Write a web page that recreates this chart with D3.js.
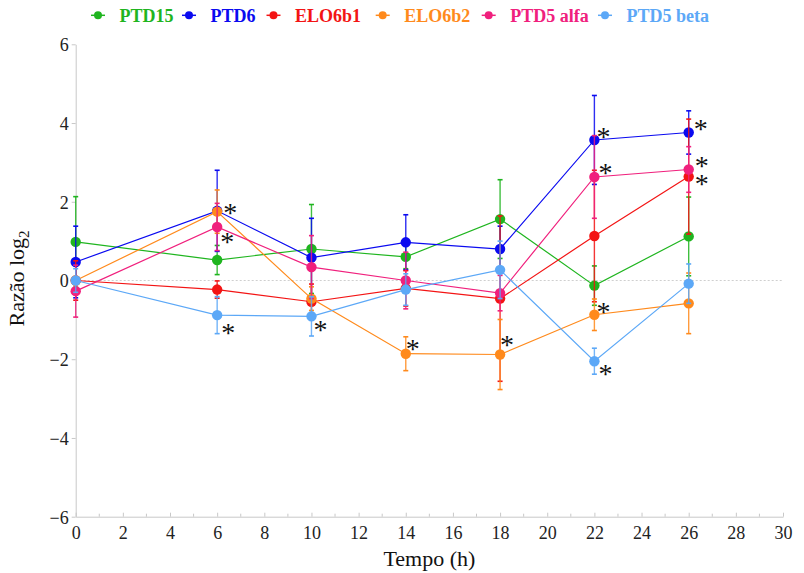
<!DOCTYPE html>
<html>
<head>
<meta charset="utf-8">
<script src="https://cdn.jsdelivr.net/npm/d3@7"></script>
<style>
  html, body { margin: 0; padding: 0; background: #fff; }
  svg { display: block; }
  svg text { font-family: 'Liberation Serif', 'Times New Roman', serif; }
</style>
</head>
<body>
<svg id="chart" width="804" height="573"></svg>
<script>
// ---------- data ----------
const times = [0, 6, 10, 14, 18, 22, 26];
const seriesNames = ["PTD15", "PTD6", "ELO6b1", "ELO6b2", "PTD5 alfa", "PTD5 beta"];
const ptd15     = [0.98, 0.52, 0.80, 0.60, 1.56, -0.13, 1.12];
const ptd15Err  = [1.15, 0.37, 1.13, 0.30, 1.00, 0.50, 1.00];
const ptd6      = [0.47, 1.77, 0.58, 0.97, 0.80, 3.57, 3.76];
const ptd6Err   = [0.91, 1.03, 1.00, 0.70, 0.58, 1.13, 0.55];
const elo6b1    = [0.00, -0.23, -0.54, -0.20, -0.46, 1.13, 2.64];
const elo6b1Err = [0.50, 0.22, 0.45, 0.45, 2.10, 1.67, 1.46];
const elo6b2    = [0.00, 1.75, -0.46, -1.86, -1.88, -0.87, -0.58];
const elo6b2Err = [0.10, 0.55, 0.30, 0.43, 0.89, 0.40, 0.77];
const ptd5a     = [-0.27, 1.36, 0.34, 0.00, -0.32, 2.63, 2.82];
const ptd5aErr  = [0.66, 0.60, 0.80, 0.72, 0.45, 1.05, 0.58];
const ptd5b     = [0.00, -0.88, -0.91, -0.23, 0.27, -2.05, -0.08];
const ptd5bErr  = [0.30, 0.47, 0.50, 0.40, 0.73, 0.33, 0.50];
const xTicks = [0, 2, 4, 6, 8, 10, 12, 14, 16, 18, 20, 22, 24, 26, 28, 30];
const yTicks = [-6, -4, -2, 0, 2, 4, 6];
// significance marks: [series index, time]
const stars = [[3, 6], [4, 6], [5, 6], [5, 10], [3, 14], [3, 18],
               [1, 22], [4, 22], [3, 22], [5, 22], [1, 26], [4, 26], [2, 26]];

// ---------- style / layout ----------
const colors = ["#1fb51f", "#0a0af0", "#f31414", "#ff8a1c", "#f0207d", "#5ca8f7"];
const starOffsets = [[13, -4], [10, 10], [11, 13], [9, 9], [7, -10], [7, -15],
                     [9, -8], [11, -9], [9, -8], [11, 8], [12, -8], [13, -8], [13, 2]];
const legendX = [91, 182, 266.5, 375.7, 481.7, 598];
const values = [ptd15, ptd6, elo6b1, elo6b2, ptd5a, ptd5b];
const errors = [ptd15Err, ptd6Err, elo6b1Err, elo6b2Err, ptd5aErr, ptd5bErr];
const serif = "'Liberation Serif', 'Times New Roman', serif";

const svg = d3.select("#chart");
const mLeft = 75.7, mRight = 783, mTop = 44.3, mBottom = 516.7;
const x = d3.scaleLinear().domain([0, 30]).range([mLeft, mRight]);
const y = d3.scaleLinear().domain([-6, 6]).range([mBottom, mTop]);

// zero reference line
svg.append("line")
  .attr("x1", x(0)).attr("x2", x(30)).attr("y1", y(0)).attr("y2", y(0))
  .attr("stroke", "#cfcfcf").attr("stroke-width", 1).attr("stroke-dasharray", "2,2");

// axes
const axisColor = "#c8c8c8";
const gx = svg.append("g").attr("transform", `translate(0,${mBottom})`)
  .call(d3.axisBottom(x).tickValues(xTicks).tickSizeInner(-4).tickSizeOuter(0).tickPadding(10));
svg.append("g").selectAll("line").data(d3.range(1, 30, 2)).join("line")
  .attr("x1", d => x(d)).attr("x2", d => x(d)).attr("y1", mBottom).attr("y2", mBottom - 3)
  .attr("stroke", axisColor);
const gy = svg.append("g").attr("transform", `translate(${mLeft},0)`)
  .call(d3.axisLeft(y).tickValues(yTicks).tickSizeInner(4).tickSizeOuter(0).tickPadding(3));
[gx, gy].forEach(g => {
  g.attr("font-family", null).style("font-family", serif);
  g.select(".domain").attr("stroke", axisColor);
  g.selectAll(".tick line").attr("stroke", axisColor);
  g.selectAll(".tick text").attr("fill", "#222").attr("font-size", 18).style("font-family", serif);
});
gy.selectAll(".tick text").attr("dy", "0.36em");

// axis titles
svg.append("text").attr("x", (mLeft + mRight) / 2).attr("y", 566)
  .attr("text-anchor", "middle").attr("font-size", 22).attr("fill", "#111")
  .text("Tempo (h)");
const yt = svg.append("text").attr("transform", `translate(24,${(mTop + mBottom) / 2 - 2}) rotate(-90)`)
  .attr("text-anchor", "middle").attr("font-size", 22).attr("fill", "#111");
yt.append("tspan").text("Razão log");
yt.append("tspan").attr("font-size", 15).attr("dy", 5).text("2");

// series
values.forEach((vals, si) => {
  const g = svg.append("g");
  const c = colors[si];
  const pts = times.map((t, i) => ({ t, v: vals[i], e: errors[si][i] }));
  pts.forEach(p => {
    g.append("line").attr("x1", x(p.t)).attr("x2", x(p.t))
      .attr("y1", y(p.v - p.e)).attr("y2", y(p.v + p.e))
      .attr("stroke", c).attr("stroke-width", 1.4).attr("opacity", 0.85);
    [p.v - p.e, p.v + p.e].forEach(v => {
      g.append("line").attr("x1", x(p.t) - 2.5).attr("x2", x(p.t) + 2.5)
        .attr("y1", y(v)).attr("y2", y(v)).attr("stroke", c).attr("stroke-width", 1.6);
    });
  });
  g.append("path").datum(pts)
    .attr("d", d3.line().x(d => x(d.t)).y(d => y(d.v)))
    .attr("fill", "none").attr("stroke", c).attr("stroke-width", 1.2);
  g.selectAll("circle").data(pts).join("circle")
    .attr("cx", d => x(d.t)).attr("cy", d => y(d.v)).attr("r", 5.2).attr("fill", c);
});

// significance asterisks
stars.forEach(([si, t], k) => {
  const i = times.indexOf(t);
  const fs = 28;
  svg.append("text")
    .attr("x", x(t) + starOffsets[k][0]).attr("y", y(values[si][i]) + starOffsets[k][1] + fs * 0.5)
    .attr("text-anchor", "middle").attr("font-size", fs).attr("fill", "#111")
    .text("*");
});

// legend
seriesNames.forEach((name, si) => {
  const lx = legendX[si], ly = 15.3;
  svg.append("line").attr("x1", lx).attr("x2", lx + 14).attr("y1", ly).attr("y2", ly)
    .attr("stroke", colors[si]).attr("stroke-width", 1.5);
  svg.append("circle").attr("cx", lx + 7).attr("cy", ly).attr("r", 4).attr("fill", colors[si]);
  svg.append("text").attr("x", lx + 28.5).attr("y", 21.5)
    .attr("font-size", 18).attr("font-weight", "bold").attr("fill", colors[si]).text(name);
});
svg.selectAll("text").style("font-family", serif);
</script>
</body>
</html>
